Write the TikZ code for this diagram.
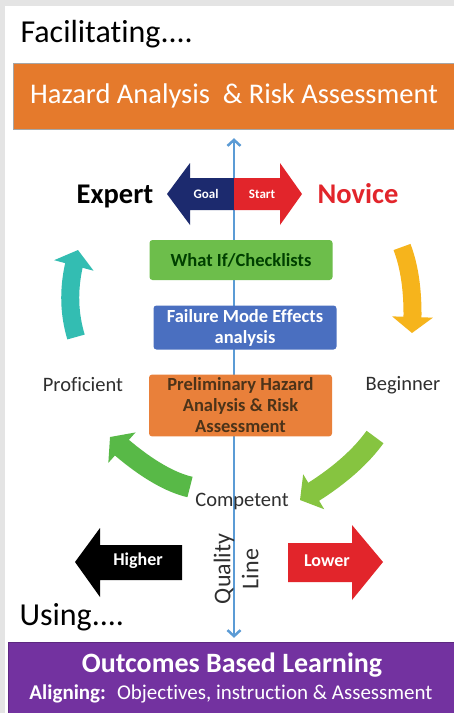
\documentclass[tikz,border=0pt]{standalone}
\usepackage{fontspec}
\setmainfont{Carlito}[Ligatures=NoCommon]
\usetikzlibrary{arrows.meta,bending}

\definecolor{framegray}{HTML}{E4E4E4}
\definecolor{barorange}{HTML}{E57A2C}
\definecolor{boxorange}{HTML}{E9803A}
\definecolor{boxgreen}{HTML}{6DBE4B}
\definecolor{boxblue}{HTML}{4A6FC0}
\definecolor{goalnavy}{HTML}{1C2A6E}
\definecolor{startred}{HTML}{E2252B}
\definecolor{cycteal}{HTML}{33BDB2}
\definecolor{cycyellow}{HTML}{F6B41C}
\definecolor{cycgreen}{HTML}{58B947}
\definecolor{cyclime}{HTML}{86C440}
\definecolor{obpurple}{HTML}{7332A0}
\definecolor{qblue}{HTML}{5B9BD5}
\definecolor{darktext}{HTML}{2F2F2F}

\begin{document}
\begin{tikzpicture}[x=1pt,y=-1pt,
    method/.style={rounded corners=3pt, minimum width=183pt, align=center,
      font=\bfseries\fontsize{18.5}{21}\selectfont},
    stage/.style={font=\fontsize{20.5}{24}\selectfont, text=darktext},
    heading/.style={anchor=base west, font=\fontsize{32}{36}\selectfont},
    cycle/.style={line width=#1, -{Triangle[width=40pt,length=16pt]}},
    flat/.style={font=\bfseries\fontsize{13}{15}\selectfont, text=white}
  ]
  \useasboundingbox (0,0) rectangle (454,713);
  \fill[framegray] (0,0) rectangle (454,713);
  \fill[white] (5,6) rectangle (456,713);

  % headings
  \node[heading] (facil) at (17,42) {Facilitating....};
  \node[heading] (using) at (16,625) {Using....};

  % top bar and bottom box
  \node[draw=gray!70, fill=barorange, text=white, minimum width=442pt, minimum height=66pt,
    font=\fontsize{28.5}{32}\selectfont] (hazard) at (234,96) {Hazard Analysis \ \& Risk Assessment};
  \node[draw=obpurple!80!black, fill=obpurple, minimum width=448pt, minimum height=71pt] (outcomes) at (232,677.5) {};
  \node[text=white, font=\bfseries\fontsize{28}{32}\selectfont] (obl) at (232,665) {Outcomes Based Learning};
  \node[text=white, font=\fontsize{21}{24}\selectfont] (align) at (231,694) {\textbf{Aligning:} \ Objectives, instruction \& Assessment};

  % quality line
  \draw[qblue, line width=2.5pt, {Straight Barb[length=6pt,width=13pt]}-{Straight Barb[length=6pt,width=13pt]},
    shorten <=9pt, shorten >=4pt] (hazard.south) -- (hazard.south |- outcomes.north);

  % goal / start arrow
  \fill[goalnavy] (234,178) -- (190,178) -- (190,163) -- (167,194) -- (190,225) -- (190,210) -- (234,210) -- cycle;
  \fill[startred] (234,178) -- (280,178) -- (280,163) -- (302,194) -- (280,225) -- (280,210) -- (234,210) -- cycle;
  \node[flat] (goal) at (206,194) {Goal};
  \node[flat] (start) at (262,194) {Start};
  \node[font=\bfseries\fontsize{28.5}{32}\selectfont] (expert) at (115,196) {Expert};
  \node[font=\bfseries\fontsize{28.5}{32}\selectfont, text=startred] (novice) at (358,194) {Novice};

  % methods
  \node[method, fill=boxgreen, text=green!25!black, minimum height=40pt] (whatif) at (241,260) {What If/Checklists};
  \node[method, fill=boxblue, text=white, minimum height=44pt] (fmea) at (245,327.5) {Failure Mode Effects\\analysis};
  \node[method, fill=boxorange, text=brown!40!black, minimum height=61pt] (pha) at (240.5,405.5) {Preliminary Hazard\\Analysis \& Risk\\Assessment};

  % stages
  \node[stage] (proficient) at (83,385) {Proficient};
  \node[stage] (beginner) at (403,385) {Beginner};
  \node[stage] (competent) at (242,501) {Competent};

  % cycle arrows
  \coordinate (t1) at (76,337);  \coordinate (t2) at (78,250);
  \coordinate (y1) at (402,247); \coordinate (y2) at (412,333);
  \coordinate (g1) at (190,487); \coordinate (g2) at (110,437);
  \coordinate (l1) at (375,437); \coordinate (l2) at (300,500);
  \draw[cycle=18pt, cycteal] (t1) .. controls (68,310) and (68,282) .. (t2);
  \draw[cycle=18pt, cycyellow] (y1) .. controls (410,268) and (414,295) .. (y2);
  \draw[cycle=21pt, cycgreen] (g1) .. controls (168,482) and (140,465) .. (g2);
  \draw[cycle=21pt, cyclime] (l1) .. controls (360,458) and (335,480) .. (l2);

  % higher / lower
  \fill (182,545) -- (100,545) -- (100,528) -- (75,562) -- (100,597) -- (100,580) -- (182,580) -- cycle;
  \fill[startred] (288,543) -- (352,543) -- (352,525) -- (383,562) -- (352,600) -- (352,582) -- (288,582) -- cycle;
  \node[flat, font=\bfseries\fontsize{18}{20}\selectfont] (higher) at (138,561) {Higher};
  \node[flat, font=\bfseries\fontsize{18}{20}\selectfont] (lower) at (327,561) {Lower};
  \node[rotate=90, align=center, text=darktext, font=\fontsize{24}{28}\selectfont] (qual) at (236,569) {Quality\\Line};
\end{tikzpicture}
\end{document}
